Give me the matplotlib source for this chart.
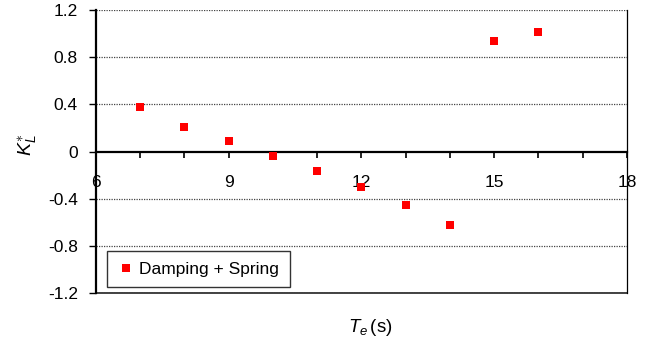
import matplotlib
matplotlib.use("Agg")
import matplotlib.pyplot as plt
from matplotlib.ticker import MultipleLocator, FixedLocator

# data
period = [7, 8, 9, 10, 11, 12, 13, 14, 15, 16]
kl_star = [0.375, 0.212, 0.085, -0.037, -0.164, -0.30, -0.452, -0.627, 0.938, 1.014]
series_label = "Damping + Spring"
x_ticks = [6, 9, 12, 15, 18]
y_ticks = [-1.2, -0.8, -0.4, 0, 0.4, 0.8, 1.2]
y_tick_labels = ["-1.2", "-0.8", "-0.4", "0", "0.4", "0.8", "1.2"]

plt.rcParams["font.family"] = ["Liberation Sans", "DejaVu Sans"]
plt.rcParams["mathtext.fontset"] = "custom"
plt.rcParams["mathtext.rm"] = "Liberation Sans"
plt.rcParams["mathtext.it"] = "Liberation Sans:italic"

fig = plt.figure(figsize=(6.56, 3.45), dpi=100)
ax = fig.add_axes([0.1463, 0.1507, 0.8095, 0.8203])

# dotted gridlines
for v in y_ticks:
    if v != 0:
        ax.axhline(v, color="#444444", lw=0.9, ls=(0, (1, 1)), zorder=1)

ax.plot(period, kl_star, ls="none", marker="s", ms=5.8, color="red",
        mec="red", mew=0, label=series_label, zorder=3)

ax.set_xlim(6, 18)
ax.set_ylim(-1.2, 1.2)

# x-axis sits at zero
ax.spines["bottom"].set_position(("data", 0))
ax.spines["bottom"].set_linewidth(1.6)
ax.spines["left"].set_linewidth(1.6)
ax.spines["right"].set_linewidth(0.9)
ax.spines["top"].set_visible(False)
ax.axhline(-1.2, color="#222222", lw=1.2, zorder=2, clip_on=False)

ax.xaxis.set_major_locator(FixedLocator(x_ticks))
ax.xaxis.set_minor_locator(MultipleLocator(1))
ax.tick_params(axis="x", which="both", direction="out", length=4, width=1.2,
               pad=13, labelsize=12.5)
ax.set_yticks(y_ticks)
ax.set_yticklabels(y_tick_labels)
ax.tick_params(axis="y", direction="out", length=5, width=1.0, pad=8,
               labelsize=12.5)

ax.set_ylabel(r"$K_L^{\ast}$", fontsize=14)
ax.yaxis.set_label_coords(-0.108, 0.523)
fig.text(0.564, 0.05, r"$T_e\,$(s)", fontsize=13.5, ha="center", va="center")

leg = ax.legend(loc="lower left", bbox_to_anchor=(0.021, 0.021), fontsize=12.5,
                frameon=True, fancybox=False, handlelength=1.0,
                handletextpad=0.25, borderpad=0.6, borderaxespad=0,
                markerscale=1.0)
leg.get_frame().set_edgecolor("black")
leg.get_frame().set_linewidth(1.0)

fig.savefig("out.png", dpi=100)
